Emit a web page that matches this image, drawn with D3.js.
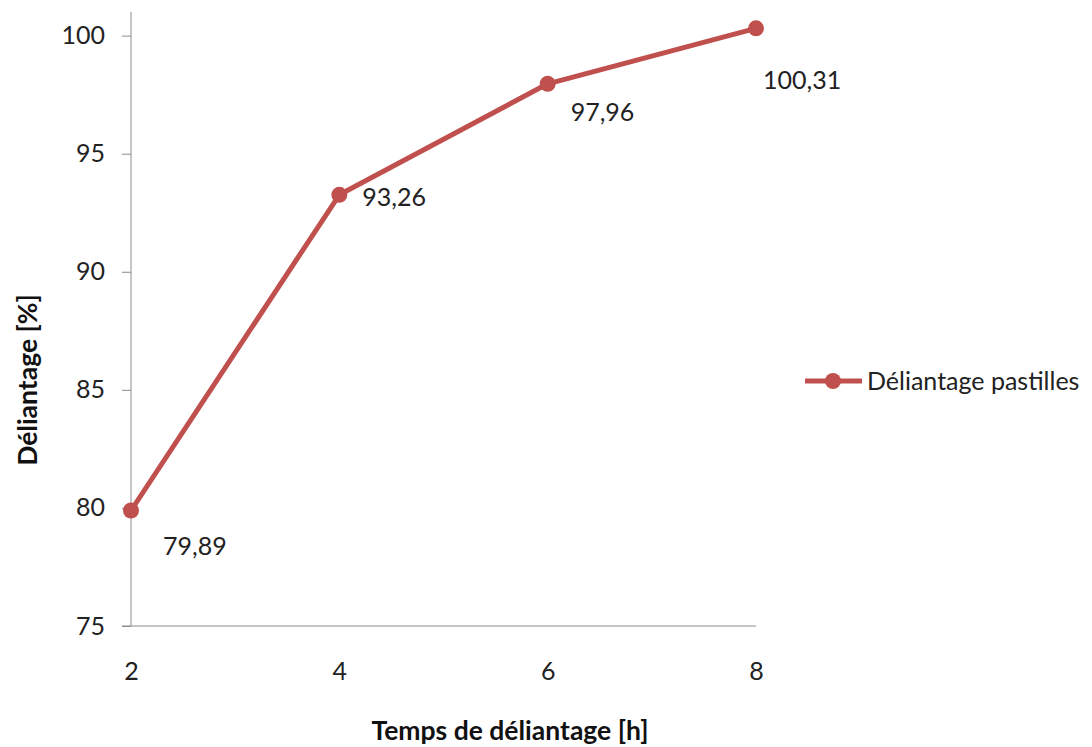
<!DOCTYPE html>
<html>
<head>
<meta charset="utf-8">
<script src="https://cdn.jsdelivr.net/npm/d3@7"></script>
<style>
  html, body { margin: 0; padding: 0; background: #fff; }
  svg { display: block; font-family: Lato, "Open Sans", sans-serif; }
</style>
</head>
<body>
<svg id="chart" width="1092" height="747"></svg>
<script>
// Debinding time (h) and debinding rate (%)
const hours = [2, 4, 6, 8];
const debinding = [79.89, 93.26, 97.96, 100.31];
const valueLabels = ["79,89", "93,26", "97,96", "100,31"];
const xTicks = [2, 4, 6, 8];
const yTicks = [75, 80, 85, 90, 95, 100];
const seriesName = "Déliantage pastilles";

const svg = d3.select("#chart");
const color = "#C0504D";
const axisColor = "#8c8c8c";

const x = d3.scaleLinear().domain([2, 8]).range([131, 756]);
const y = d3.scaleLinear().domain([75, 101]).range([626, 12]);

// Axes
const yAxis = svg.append("g")
  .attr("transform", `translate(${x(2)},0)`)
  .call(d3.axisLeft(y).tickValues(yTicks).tickSize(9).tickPadding(17).tickFormat(d3.format("d")));
yAxis.select(".domain").attr("stroke", axisColor).attr("d", `M0,${y(101)}V${y(75)}`);
yAxis.selectAll(".tick line").attr("stroke", axisColor);
yAxis.selectAll(".tick text").attr("font-size", 25).attr("fill", "#222")
  .attr("font-family", "Lato, sans-serif");

const xAxis = svg.append("g")
  .attr("transform", `translate(0,${y(75)})`)
  .call(d3.axisBottom(x).tickValues(xTicks).tickSize(0).tickPadding(36).tickFormat(d3.format("d")));
xAxis.select(".domain").attr("stroke", axisColor).attr("d", `M${x(2) - 9},0H${x(8)}`);
xAxis.selectAll(".tick text").attr("font-size", 25).attr("fill", "#222")
  .attr("font-family", "Lato, sans-serif");

// Axis titles
svg.append("text")
  .attr("x", 510).attr("y", 740)
  .attr("text-anchor", "middle")
  .attr("font-size", 26.5).attr("font-weight", "bold").attr("fill", "#111")
  .text("Temps de déliantage [h]");

svg.append("text")
  .attr("transform", "translate(37,380) rotate(-90)")
  .attr("text-anchor", "middle")
  .attr("font-size", 26.5).attr("font-weight", "bold").attr("fill", "#111")
  .text("Déliantage [%]");

// Series line and markers
const pts = hours.map((h, i) => ({ h, v: debinding[i], label: valueLabels[i] }));
svg.append("path")
  .datum(pts)
  .attr("fill", "none")
  .attr("stroke", color)
  .attr("stroke-width", 5)
  .attr("stroke-linejoin", "round")
  .attr("d", d3.line().x(d => x(d.h)).y(d => y(d.v)));

svg.selectAll("circle.pt")
  .data(pts)
  .join("circle")
  .attr("class", "pt")
  .attr("cx", d => x(d.h)).attr("cy", d => y(d.v))
  .attr("r", 8).attr("fill", color);

// Value labels, offset to the lower right of each point
const labelOffsets = [[32, 44], [23, 11], [23, 37], [7, 61]];
svg.selectAll("text.val")
  .data(pts)
  .join("text")
  .attr("class", "val")
  .attr("x", (d, i) => x(d.h) + labelOffsets[i][0])
  .attr("y", (d, i) => y(d.v) + labelOffsets[i][1])
  .attr("font-size", 25).attr("fill", "#222")
  .text(d => d.label);

// Legend
const lg = svg.append("g").attr("transform", "translate(805,381)");
lg.append("line").attr("x1", 0).attr("x2", 57).attr("y1", 0).attr("y2", 0)
  .attr("stroke", color).attr("stroke-width", 5);
lg.append("circle").attr("cx", 28).attr("cy", 0).attr("r", 8).attr("fill", color);
lg.append("text").attr("x", 62).attr("y", 9)
  .attr("font-size", 25).attr("fill", "#222")
  .text(seriesName);
</script>
</body>
</html>
